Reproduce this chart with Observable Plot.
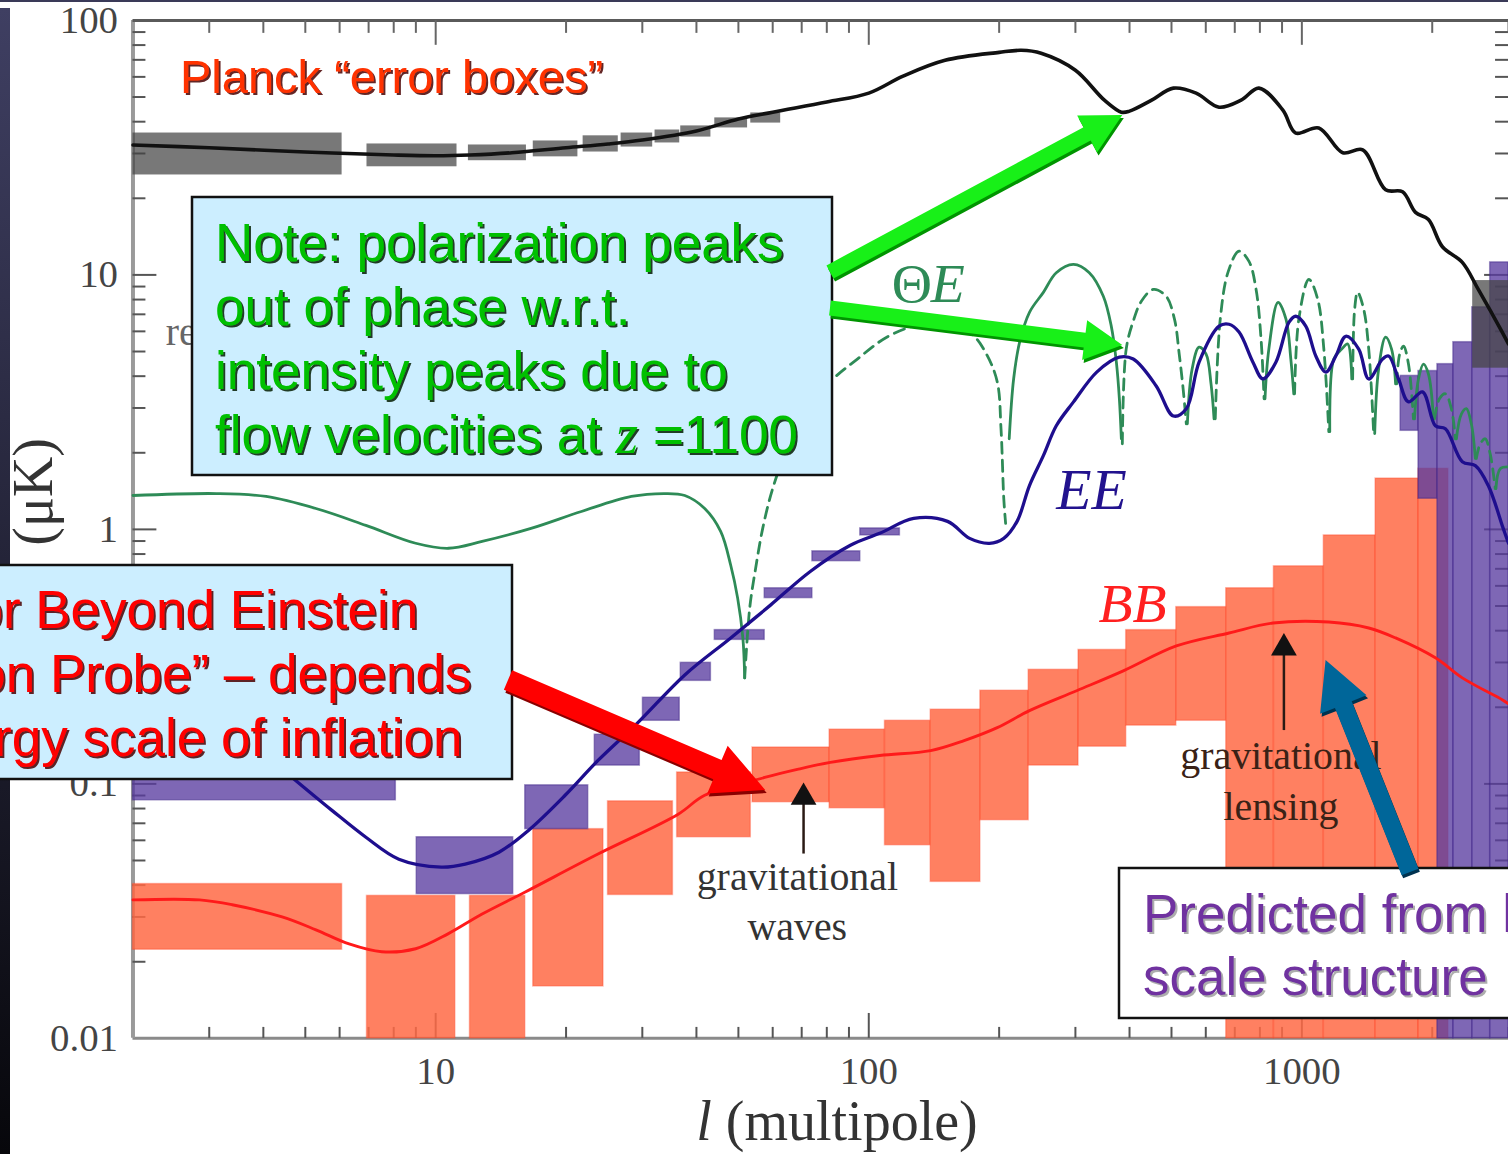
<!DOCTYPE html>
<html>
<head>
<meta charset="utf-8">
<script src="https://cdn.jsdelivr.net/npm/d3@7"></script>
<script src="https://cdn.jsdelivr.net/npm/@observablehq/plot@0.6"></script>
<style>
  html, body { margin: 0; padding: 0; background: #fff; overflow: hidden; }
  #wrap { position: relative; width: 1508px; height: 1154px; overflow: hidden; background: #fff; }
  #chart { position: absolute; left: 0; top: 0; }
  #overlay { position: absolute; left: 0; top: 0; }
  #overlay text { white-space: pre; }
</style>
</head>
<body>
<div id="wrap"><div id="chart"></div><svg id="overlay" width="1508" height="1154"></svg></div>
<script>
// ---------------- DATA ----------------
// axis ticks
const xTicks = [10, 100, 1000];
const xTickLabels = ["10", "100", "1000"];
const yTicks = [0.01, 0.1, 1, 10, 100];
const yTickLabels = ["0.01", "0.1", "1", "10", "100"];
const xMinor = [3,4,5,6,7,8,9,20,30,40,50,60,70,80,90,200,300,400,500,600,700,800,900,2000,3000];
const yMinor = [0.02,0.03,0.04,0.05,0.06,0.07,0.08,0.09,0.2,0.3,0.4,0.5,0.6,0.7,0.8,0.9,2,3,4,5,6,7,8,9,20,30,40,50,60,70,80,90];
const yMajor = [0.1, 1, 10];

// Temperature (TT) spectrum
const ttEll = [2,3,5,8,10,12,15,20,25,30,40,50,60,80,100,120,150,200,225,250,300,350,383,400,450,505,570,644,724,796,904,968,1094,1243,1382,1561,1708,1830,1960,2111,2347,2555,2901,3000];
const ttVal = [32.4,31.6,30.4,29.6,29.4,29.6,30.2,31.6,32.7,33.9,36.8,41.0,43.6,47.8,51.8,60.4,69.7,74.9,76.3,74.3,63.7,48.6,43.6,44.0,48.6,54.2,51.8,45.6,48.6,54.2,44.4,36.1,37.8,30.2,31.0,21.6,21.2,17.6,16.5,12.9,11.2,8.77,5.96,5.35];

// Planck TT error boxes
const ttBoxL0 = [2, 6.94, 11.9, 16.8, 21.9, 26.8, 32.1, 36.8, 44.1, 53.4, 2480];
const ttBoxL1 = [6.08, 11.2, 16.2, 21.3, 26.4, 31.7, 36.6, 43.2, 52.5, 62.6, 3000];
const ttBoxHi = [36.1, 32.7, 32.4, 33.6, 35.2, 36.1, 37.1, 38.5, 41.4, 43.3, 9.5];
const ttBoxLo = [24.7, 26.6, 28.1, 29.1, 30.4, 31.8, 33.0, 34.8, 37.8, 39.5, 4.3];

// EE spectrum
const eeEll = [4.66,5.76,6.90,8.22,10.3,11.7,14.0,16.4,19.9,23.7,29.3,37.6,48.0,59.3,73.4,90.7,106,127,152,171,190,205,220,235,253,271,297,336,379,408,461,505,541,579,644,679,716,771,813,871,934,968,1021,1077,1136,1198,1263,1353,1427,1536,1586,1672,1763,1899,2034,2145,2347,2515,2694,2917,3000];
const eeVal = [0.106,0.0787,0.0617,0.0506,0.0471,0.0484,0.0539,0.0658,0.0902,0.1236,0.174,0.268,0.3745,0.504,0.685,0.866,0.965,1.104,1.075,0.922,0.882,0.922,1.075,1.487,1.948,2.553,3.17,4.15,4.75,4.67,3.66,2.79,2.98,4.54,6.29,6.40,5.96,4.54,3.90,4.54,6.52,6.88,6.29,4.80,4.15,4.80,5.74,5.11,3.90,4.67,4.80,3.90,3.17,3.47,2.553,2.485,1.845,1.78,1.487,1.009,0.882];

// EE error boxes
const eeBoxL0 = [2, 9.04, 16.1, 23.3, 30.1, 36.8, 44.1, 57.5, 74.1, 95.6, 1690, 1859, 2056, 2238, 2475, 2722];
const eeBoxL1 = [8.09, 15.1, 22.5, 29.6, 36.6, 43.2, 57.5, 74.1, 95.6, 118, 1859, 2056, 2238, 2475, 2722, 3000];
const eeBoxHi = [0.12, 0.0617, 0.0987, 0.156, 0.218, 0.299, 0.402, 0.587, 0.820, 1.009, 4.01, 4.19, 4.46, 5.44, 7.46, 11.2];
const eeBoxLo = [0.0862, 0.0369, 0.0664, 0.118, 0.177, 0.254, 0.368, 0.537, 0.750, 0.947, 2.44, 1.32, 0.01, 0.01, 0.01, 0.01];

// BB spectrum
const bbEll = [2,2.85,3.39,4.42,5.29,6.31,7.51,8.99,10.7,12.8,16.1,23.7,36.3,41.8,57.5,68.4,81.5,106,139,166,198,235,302,387,513,679,858,1154,1427,1646,2034,2347,2901,3000];
const bbVal = [0.0350,0.0350,0.0335,0.0300,0.0267,0.0235,0.0219,0.0225,0.0258,0.0308,0.0376,0.0530,0.0760,0.0902,0.106,0.114,0.1214,0.1293,0.1352,0.1480,0.1664,0.1940,0.2323,0.278,0.3483,0.3917,0.4286,0.4325,0.4098,0.3745,0.3128,0.261,0.2141,0.2065];

// BB error boxes
const bbBoxL0 = [2, 6.94, 12.0, 16.8, 25.0, 36.1, 53.9, 81.2, 109, 139, 181, 234, 305, 393, 513, 669, 862, 1124, 1480, 1859];
const bbBoxL1 = [6.08, 11.1, 16.1, 24.4, 35.3, 53.4, 81.2, 109, 139, 181, 234, 305, 393, 513, 669, 862, 1124, 1480, 1859, 2179];
const bbBoxHi = [0.0404, 0.0363, 0.0363, 0.0664, 0.0854, 0.1109, 0.139, 0.1634, 0.177, 0.1957, 0.2323, 0.2807, 0.336, 0.402, 0.495, 0.587, 0.716, 0.947, 1.584, 1.73];
const bbBoxLo = [0.0223, 0.01, 0.01, 0.016, 0.0366, 0.0617, 0.0847, 0.0802, 0.0574, 0.0412, 0.072, 0.118, 0.140, 0.1694, 0.177, 0.01, 0.01, 0.01, 0.01, 0.01];

// |ΘE| spectrum, in segments of alternating sign (first positive = solid, negative = dashed)
const teEll = [
  [2,3.12,4.06,5.29,6.90,8.99,10.7,12.8,16.6,21.7,28.3,33.8,37.6,41.8,45.5,48.0,49.8,51.2,51.7],
  [51.7,53.1,54.8,56.9,60,64.9,72.2,81.5,94.1,110,129,152,173,187,198,202,205,207],
  [211,216,223,235,253,271,297,323,348,363,373,379,383],
  [385,393,408,426,454,486,508,521,532,541],
  [544,558,579,601,617,627],
  [631,648,676,716,755,784,805,818],
  [822,839,881,919,943,958],
  [962,984,1038,1088,1124,1154],
  [1160,1185,1236,1276,1304],
  [1310,1324,1345,1389,1427,1465],
  [1473,1504,1561,1611,1646],
  [1655,1682,1717,1763,1810],
  [1820,1859,1909,1960,2013],
  [2024,2078,2145,2214,2262],
  [2274,2335,2398,2462,2515],
  [2528,2582,2651,2722,2796],
  [2806,2871,3000]
];
const teVal = [
  [1.359,1.383,1.347,1.208,1.037,0.882,0.843,0.897,1.009,1.176,1.347,1.383,1.359,1.208,0.982,0.723,0.537,0.3745,0.261],
  [0.261,0.491,0.704,1.009,1.447,2.075,2.844,3.80,4.67,5.69,6.34,6.46,5.85,4.88,3.80,2.485,1.32,1.056],
  [2.27,3.90,5.44,7.13,8.54,10.2,11.0,10.2,8.24,6.29,4.54,3.26,2.27],
  [2.17,5.11,6.58,7.88,8.77,8.24,6.70,4.88,3.56,2.60],
  [2.60,4.27,5.20,4.88,3.73,2.72],
  [2.72,6.70,10.3,12.4,11.3,8.77,5.59,3.26],
  [3.26,5.11,7.80,6.70,4.67,3.41],
  [3.41,6.70,9.60,8.02,5.11,2.42],
  [2.42,4.67,5.11,5.35,3.90],
  [3.90,7.34,8.54,7.34,5.11,2.38],
  [2.38,4.27,5.69,5.11,3.73],
  [3.73,4.88,5.25,4.46,2.72],
  [2.72,3.90,4.46,4.08,2.72],
  [2.72,3.26,3.41,2.98,2.27],
  [2.27,2.84,2.98,2.60,1.90],
  [1.90,2.17,2.27,1.98,1.447],
  [1.447,1.73,1.76]
];

// in-chart labels (data coordinates)
const curveLabelText = ["Θ", "E", "EE", "BB"];
const curveLabelEll = [113, 139, 271, 339];
const curveLabelVal = [9.18, 9.18, 1.42, 0.509];
const noteText = ["gravitational", "waves", "gravitational", "lensing"];
const noteEll = [68.4, 68.4, 895, 895];
const noteVal = [0.0431, 0.0274, 0.128, 0.0809];
const markerEll = [70.7, 909];      // small black arrows
const markerFrom = [0.053, 0.162];
const markerTo = [0.0886, 0.342];
const hiddenLabelEll = [2.38];
const hiddenLabelVal = [5.96];

// slide callout arrow tips (data coordinates)
const calloutTipEll = [377, 377, 56.9, 1106];
const calloutTipVal = [42.5, 5.35, 0.0969, 0.3128];

// ---------------- TABLES ----------------
const tt = ttEll.map((l, i) => ({l, v: ttVal[i]}));
const ee = eeEll.map((l, i) => ({l, v: eeVal[i]}));
const bb = bbEll.map((l, i) => ({l, v: bbVal[i]}));
const ttBoxes = ttBoxL0.map((l0, i) => ({l0, l1: ttBoxL1[i], lo: ttBoxLo[i], hi: ttBoxHi[i]}));
const eeBoxes = eeBoxL0.map((l0, i) => ({l0, l1: eeBoxL1[i], lo: eeBoxLo[i], hi: eeBoxHi[i]}));
const bbBoxes = bbBoxL0.map((l0, i) => ({l0, l1: bbBoxL1[i], lo: bbBoxLo[i], hi: bbBoxHi[i]}));
const te = teEll.flatMap((seg, s) => seg.map((l, i) => ({l, v: teVal[s][i], seg: s, neg: s % 2 === 1})));
const curveLabels = curveLabelText.map((t, i) => ({t, l: curveLabelEll[i], v: curveLabelVal[i]}));
const notes = noteText.map((t, i) => ({t, l: noteEll[i], v: noteVal[i], onBox: i >= 2}));
const markers = markerEll.map((l, i) => ({l, v1: markerFrom[i], v2: markerTo[i]}));

const W = 1514, H = 1154, mL = 133, mT = 20, mB = 112, mR = 0;
const pw = W - mL - mR, ph = H - mT - mB;
const serif = "Liberation Serif, Times New Roman, serif";

const chart = Plot.plot({
  width: W, height: H,
  marginLeft: mL, marginTop: mT, marginBottom: mB, marginRight: mR,
  x: {type: "log", domain: [2, 3000]},
  y: {type: "log", domain: [0.01, 100]},
  style: {background: "white", fontFamily: serif},
  marks: [
    Plot.ruleY([0.01], {stroke: "#8a8a8a", strokeWidth: 3}),
    Plot.ruleX([2], {stroke: "#9a9a9a", strokeWidth: 4}),
    Plot.ruleY([100], {stroke: "#5a5a5a", strokeWidth: 3}),
    // inward ticks
    Plot.tickY(yMinor, {y: d => d, insetRight: pw - 13, stroke: "#555", strokeWidth: 2}),
    Plot.tickY(yMajor, {y: d => d, insetRight: pw - 24, stroke: "#555", strokeWidth: 2}),
    Plot.tickY(yMinor, {y: d => d, insetLeft: pw - 13, stroke: "#555", strokeWidth: 2}),
    Plot.tickY(yMajor, {y: d => d, insetLeft: pw - 24, stroke: "#555", strokeWidth: 2}),
    Plot.tickX(xMinor, {x: d => d, insetBottom: ph - 13, stroke: "#666", strokeWidth: 2}),
    Plot.tickX(xTicks, {x: d => d, insetBottom: ph - 25, stroke: "#666", strokeWidth: 2}),
    Plot.tickX(xMinor, {x: d => d, insetTop: ph - 11, stroke: "#555", strokeWidth: 2}),
    Plot.tickX(xTicks, {x: d => d, insetTop: ph - 25, stroke: "#555", strokeWidth: 2}),
    // BB boxes
    Plot.rect(bbBoxes, {x1: "l0", x2: "l1", y1: "lo", y2: "hi", fill: "#ff6a45", fillOpacity: 0.85, stroke: "#ff3f1f", strokeOpacity: 0.35, strokeWidth: 1.5}),
    // EE boxes
    Plot.rect(eeBoxes, {x1: "l0", x2: "l1", y1: "lo", y2: "hi", fill: "#5a3ca0", fillOpacity: 0.78, stroke: "#3f2488", strokeOpacity: 0.45, strokeWidth: 1.5}),
    // Planck TT error boxes
    Plot.rect(ttBoxes, {x1: "l0", x2: "l1", y1: "lo", y2: "hi", fill: "#444", fillOpacity: 0.72}),
    // gravitational waves / lensing annotations
    Plot.text(notes.filter(d => !d.onBox), {x: "l", y: "v", text: "t", fontSize: 40, fontFamily: serif, fill: "#333", textAnchor: "middle"}),
    Plot.text(notes.filter(d => d.onBox), {x: "l", y: "v", text: "t", fontSize: 40, fontFamily: serif, fill: "#3a2216", textAnchor: "middle"}),
    Plot.ruleX(markers, {x: "l", y1: "v1", y2: "v2", stroke: "#2a1a14", strokeWidth: 2.5}),
    Plot.dot(markers, {x: "l", y: "v2", symbol: "triangle", r: 9.6, fill: "#111", stroke: "none"}),
    // |ΘE|
    Plot.line(te.filter(d => !d.neg), {x: "l", y: "v", z: "seg", stroke: "#2e8b57", strokeWidth: 2.8, curve: "catmull-rom"}),
    Plot.line(te.filter(d => d.neg), {x: "l", y: "v", z: "seg", stroke: "#2e8b57", strokeWidth: 2.8, strokeDasharray: "11,7", curve: "catmull-rom"}),
    // EE, BB, TT curves
    Plot.line(ee, {x: "l", y: "v", stroke: "#1e0e8e", strokeWidth: 3.3, curve: "catmull-rom"}),
    Plot.line(bb, {x: "l", y: "v", stroke: "#ff1a1a", strokeWidth: 2.9, curve: "catmull-rom"}),
    Plot.line(tt, {x: "l", y: "v", stroke: "#111", strokeWidth: 3.6, curve: "catmull-rom"}),
    // curve labels
    Plot.text(curveLabels.filter(d => d.t === "Θ"), {x: "l", y: "v", text: "t", fontSize: 56, fontFamily: serif, fill: "#2e8b57", textAnchor: "start"}),
    Plot.text(curveLabels.filter(d => d.t === "E"), {x: "l", y: "v", text: "t", fontSize: 56, fontFamily: serif, fontStyle: "italic", fill: "#2e8b57", textAnchor: "start"}),
    Plot.text(curveLabels.filter(d => d.t === "EE"), {x: "l", y: "v", text: "t", fontSize: 58, fontFamily: serif, fontStyle: "italic", fill: "#22128e", textAnchor: "start"}),
    Plot.text(curveLabels.filter(d => d.t === "BB"), {x: "l", y: "v", text: "t", fontSize: 56, fontFamily: serif, fontStyle: "italic", fill: "#ff2020", textAnchor: "start"}),
    Plot.text(hiddenLabelEll, {x: d => d, y: (d, i) => hiddenLabelVal[i], text: () => "reionization", fontSize: 40, fontFamily: serif, fill: "#666", textAnchor: "start"}),
    // axes
    Plot.axisY({ticks: yTicks, tickFormat: d => yTickLabels[yTicks.indexOf(d)], tickSize: 0, tickPadding: 15, fontSize: 39, fontFamily: serif, fill: "#444", label: null}),
    Plot.axisX({ticks: xTicks, tickFormat: d => xTickLabels[xTicks.indexOf(d)], tickSize: 0, tickPadding: 18, fontSize: 39, fontFamily: serif, fill: "#444", label: null})
  ]
});
document.getElementById("chart").append(chart);

const xs = chart.scale("x"), ys = chart.scale("y");

// ---------------- SLIDE OVERLAY ----------------
const svg = d3.select("#overlay");
const defs = svg.append("defs");
const grad = defs.append("linearGradient").attr("id", "barGrad").attr("x1", 0).attr("y1", 0).attr("x2", 0).attr("y2", 1);
grad.append("stop").attr("offset", "0%").attr("stop-color", "#3f3f62");
grad.append("stop").attr("offset", "100%").attr("stop-color", "#07070b");
function shadowFilter(id, color, dx, dy, sd, op) {
  const f = defs.append("filter").attr("id", id).attr("x", "-10%").attr("y", "-40%").attr("width", "120%").attr("height", "180%");
  f.append("feDropShadow").attr("dx", dx).attr("dy", dy).attr("stdDeviation", sd).attr("flood-color", color).attr("flood-opacity", op);
}
shadowFilter("shGreen", "#0b2a0b", 2, 2, 0.5, 0.9);
shadowFilter("shRed", "#4a0000", 2, 2, 0.5, 0.85);
shadowFilter("shPurple", "#999", 2, 2, 0.6, 0.8);

// slide decorations
svg.append("rect").attr("x", 0).attr("y", 0).attr("width", 1508).attr("height", 2).attr("fill", "#3a3a58");
svg.append("rect").attr("x", 0).attr("y", 8).attr("width", 10).attr("height", 1146).attr("fill", "url(#barGrad)");

// axis titles
const xt = svg.append("text").attr("x", 837).attr("y", 1140).attr("text-anchor", "middle")
  .attr("font-family", serif).attr("font-size", 56).attr("fill", "#333");
xt.append("tspan").attr("font-style", "italic").text("l");
xt.append("tspan").text(" (multipole)");
svg.append("text").attr("transform", "translate(52,438) rotate(-90)").attr("text-anchor", "end")
  .attr("font-family", serif).attr("font-size", 56).attr("fill", "#333").text("(μK)");

const sans = "Liberation Sans, Arial, sans-serif";
// Planck title
svg.append("text").attr("x", 180).attr("y", 93).attr("font-family", sans).attr("font-size", 47)
  .attr("fill", "#ff3300").attr("filter", "url(#shRed)").text("Planck “error boxes”");

// Note box
svg.append("rect").attr("x", 192).attr("y", 197).attr("width", 640).attr("height", 278)
  .attr("fill", "#cceeff").attr("stroke", "#111").attr("stroke-width", 2.5);
const noteLines = ["Note: polarization peaks", "out of phase w.r.t.", "intensity peaks due to"];
noteLines.forEach((t, i) => {
  svg.append("text").attr("x", 215).attr("y", 261 + 64 * i).attr("font-family", sans).attr("font-size", 53)
    .attr("fill", "#00c000").attr("filter", "url(#shGreen)").text(t);
});
const nl4 = svg.append("text").attr("x", 215).attr("y", 453).attr("font-family", sans).attr("font-size", 53)
  .attr("fill", "#00c000").attr("filter", "url(#shGreen)");
nl4.append("tspan").text("flow velocities at ");
nl4.append("tspan").attr("font-family", serif).attr("font-style", "italic").attr("font-size", 58).text("z");
nl4.append("tspan").text(" =1100");

// Beyond Einstein box
svg.append("rect").attr("x", -10).attr("y", 565).attr("width", 522).attr("height", 214)
  .attr("fill", "#cceeff").attr("stroke", "#111").attr("stroke-width", 2.5);
["Goal for Beyond Einstein", "“Inflation Probe” – depends", "on energy scale of inflation"].forEach((t, i) => {
  svg.append("text").attr("x", -168).attr("y", 628 + 64 * i).attr("font-family", sans).attr("font-size", 53)
    .attr("fill", "#ff0000").attr("filter", "url(#shRed)").text(t);
});

// Predicted box
svg.append("rect").attr("x", 1119).attr("y", 868).attr("width", 420).attr("height", 150)
  .attr("fill", "#ffffff").attr("stroke", "#111").attr("stroke-width", 2.5);
["Predicted from large-", "scale structure"].forEach((t, i) => {
  svg.append("text").attr("x", 1143).attr("y", 932 + 63 * i).attr("font-family", sans).attr("font-size", 53)
    .attr("fill", "#7030a0").attr("filter", "url(#shPurple)").text(t);
});

// callout arrows
function arrowPoly(S, T, w, hl, hw) {
  const dx = T[0] - S[0], dy = T[1] - S[1], L = Math.hypot(dx, dy);
  const ux = dx / L, uy = dy / L, nx = -uy, ny = ux;
  const B = [T[0] - ux * hl, T[1] - uy * hl];
  return [
    [S[0] + nx * w / 2, S[1] + ny * w / 2], [B[0] + nx * w / 2, B[1] + ny * w / 2],
    [B[0] + nx * hw / 2, B[1] + ny * hw / 2], T,
    [B[0] - nx * hw / 2, B[1] - ny * hw / 2], [B[0] - nx * w / 2, B[1] - ny * w / 2],
    [S[0] - nx * w / 2, S[1] - ny * w / 2]
  ];
}
const calloutStart = [[830, 272], [830, 308], [508, 680], [1410, 872]];
const calloutStyle = [
  {w: 15, hl: 40, hw: 42, fill: "#18f018", dark: "#009400"},
  {w: 15, hl: 38, hw: 40, fill: "#18f018", dark: "#009400"},
  {w: 21, hl: 52, hw: 52, fill: "#ff0000", dark: "#8a0000"},
  {w: 18, hl: 48, hw: 50, fill: "#006699", dark: "#003350"}
];
calloutStart.forEach((S, i) => {
  const T = [xs.apply(calloutTipEll[i]), ys.apply(calloutTipVal[i])];
  const st = calloutStyle[i];
  const pts = arrowPoly(S, T, st.w, st.hl, st.hw);
  svg.append("polygon").attr("points", pts.map(p => [p[0] + 1.5, p[1] + 3].join(",")).join(" ")).attr("fill", st.dark);
  svg.append("polygon").attr("points", pts.map(p => p.join(",")).join(" ")).attr("fill", st.fill);
});
</script>
</body>
</html>
